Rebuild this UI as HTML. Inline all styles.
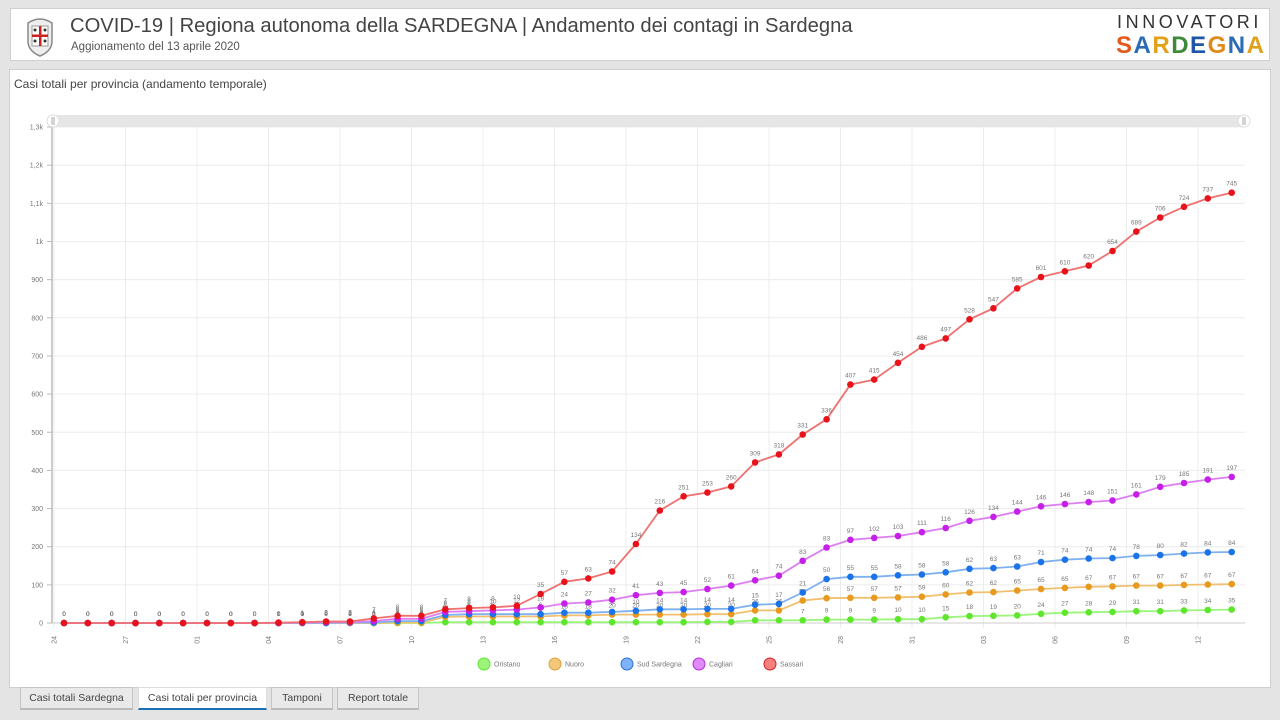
<!DOCTYPE html>
<html><head><meta charset="utf-8">
<style>
body{margin:0;width:1280px;height:720px;background:#e4e4e4;font-family:"Liberation Sans",sans-serif;overflow:hidden;position:relative}
.hdr{position:absolute;left:10px;top:8px;width:1260px;height:53px;background:#fff;border:1px solid #cfcfcf;box-sizing:border-box}
.t1{position:absolute;left:70px;top:15px;font-size:20.2px;color:#444;white-space:nowrap}
.t2{position:absolute;left:71px;top:41px;font-size:11.5px;color:#555}
.panel{position:absolute;left:9px;top:69px;width:1262px;height:619px;background:#fff;border:1px solid #cfcfcf;box-sizing:border-box}
.ptitle{position:absolute;left:14px;top:77px;font-size:12px;color:#444}
.tab{position:absolute;top:687px;height:23px;background:#e9e9e9;border:1px solid #c4c4c4;border-bottom:2px solid #bbb;box-sizing:border-box;font-size:10.5px;color:#444;text-align:center;line-height:21px}
.tab.act{background:#fff;border-color:#ddd;border-bottom:2px solid #1a6fb5}
.logo1{position:absolute;left:1117px;top:12px;font-size:18px;letter-spacing:3.6px;color:#333;white-space:nowrap}
.logo2{position:absolute;left:1116px;top:32px;font-size:24px;font-weight:bold;letter-spacing:1.5px;white-space:nowrap}
</style></head><body>
<div class="hdr"></div>
<svg style="position:absolute;left:22px;top:15px" width="36" height="42" viewBox="0 0 36 42">
<path d="M6 8 Q18 0 30 8 L30 26 Q30 36 18 41 Q6 36 6 26Z" fill="#eee" stroke="#888" stroke-width="1.5"/>
<rect x="10" y="11" width="16" height="20" fill="#fff" stroke="#999"/>
<rect x="17" y="11" width="2.5" height="20" fill="#c22"/><rect x="10" y="19.5" width="16" height="2.5" fill="#c22"/>
<circle cx="13" cy="15" r="1.5" fill="#333"/><circle cx="23" cy="15" r="1.5" fill="#333"/><circle cx="13" cy="26" r="1.5" fill="#333"/><circle cx="23" cy="26" r="1.5" fill="#333"/>
</svg>
<div class="t1">COVID-19 | Regiona autonoma della SARDEGNA | Andamento dei contagi in Sardegna</div>
<div class="t2">Aggionamento del 13 aprile 2020</div>
<div class="logo1">INNOVATORI</div>
<div class="logo2"><span style="color:#e25a1c">S</span><span style="color:#2a6db5">A</span><span style="color:#e0a21a">R</span><span style="color:#3c8a3a">D</span><span style="color:#1f57a6">E</span><span style="color:#e08a1c">G</span><span style="color:#2a6db5">N</span><span style="color:#e0a21a">A</span></div>
<div class="panel"></div>
<div class="ptitle">Casi totali per provincia (andamento temporale)</div>
<svg id="c" style="position:absolute;left:0;top:0" width="1280" height="690"></svg>
<div class="tab" style="left:20px;width:113px">Casi totali Sardegna</div>
<div class="tab act" style="left:138px;width:129px">Casi totali per provincia</div>
<div class="tab" style="left:271px;width:62px">Tamponi</div>
<div class="tab" style="left:337px;width:82px">Report totale</div>
<script>
var O=[],N=[],S=[],C=[],R=[];
var early=[[0,0,0,0,1],[0,0,0,1,1],[0,0,0,2,2],[0,0,1,1,2],[0,0,1,4,7],[0,1,4,6,8],[0,1,4,6,8],[2,14,5,8,7],[2,15,6,8,8],[2,15,6,10,8],[2,15,6,12,10],
[2,15,6,18,35],[2,18,7,24,57],[2,18,7,27,63],[2,20,7,32,74],[2,20,10,41,134],[2,20,14,43,216],[2,20,14,45,251],[3,20,14,52,253],[3,20,14,61,260],[7,26,15,64,309],[7,26,17,74,318]];
for(var i=0;i<9;i++){O.push(0);N.push(0);S.push(0);C.push(0);R.push(0);}
early.forEach(function(a){O.push(a[0]);N.push(a[1]);S.push(a[2]);C.push(a[3]);R.push(a[4]);});
O=O.concat([7,9,9,9,10,10,15,18,19,20,24,27,28,29,31,31,33,34,35]);
N=N.concat([52,56,57,57,57,59,60,62,62,65,65,65,67,67,67,67,67,67,67]);
S=S.concat([21,50,55,55,58,58,58,62,63,63,71,74,74,74,78,80,82,84,84]);
C=C.concat([83,83,97,102,103,111,116,126,134,144,146,146,148,151,161,179,185,191,197]);
R=R.concat([331,336,407,415,454,486,497,528,547,585,601,610,620,654,689,706,724,737,745]);
var ser=[[O,'#5ee62c','#9af57a'],[N,'#e89a1e','#f0c070'],[S,'#1b73ea','#7fb0f0'],[C,'#c51fe8','#dd7ff2'],[R,'#e8121a','#f07070']];
var h='',X0=52,Y0=623,k=0.3815;
function y(v){return Y0-v*k;}function x(i){return 64+23.83*i;}
var yl=['0','100','200','300','400','500','600','700','800','900','1k','1,1k','1,2k','1,3k'];
for(var j=0;j<14;j++){var yy=y(j*100);h+='<line x1="'+X0+'" x2="1245" y1="'+yy+'" y2="'+yy+'" stroke="#ececec"/>';
h+='<line x1="47" x2="'+X0+'" y1="'+yy+'" y2="'+yy+'" stroke="#bbb"/>';
h+='<text x="43" y="'+(yy+2.5)+'" font-size="7" fill="#777" text-anchor="end">'+yl[j]+'</text>';}
var xl=['24','27','01','04','07','10','13','16','19','22','25','28','31','03','06','09','12'];
for(var j=0;j<17;j++){var xx=54+71.5*j;h+='<line x1="'+xx+'" x2="'+xx+'" y1="127" y2="628" stroke="#ececec"/>';
h+='<text transform="translate('+(xx+2.5)+',636) rotate(-90)" font-size="7" fill="#777" text-anchor="end">'+xl[j]+'</text>';}
h+='<line x1="'+X0+'" x2="'+X0+'" y1="127" y2="623" stroke="#bbb" stroke-width="1.5"/><line x1="'+X0+'" x2="1245" y1="623" y2="623" stroke="#ccc"/>';
h+='<rect x="'+X0+'" y="115" width="1193" height="12" fill="#e6e6e6"/>';
[53,1244].forEach(function(cx){h+='<circle cx="'+cx+'" cy="121" r="6" fill="#fff" stroke="#ddd"/><line x1="'+(cx-1)+'" x2="'+(cx-1)+'" y1="117" y2="125" stroke="#aaa"/><line x1="'+(cx+1)+'" x2="'+(cx+1)+'" y1="117" y2="125" stroke="#aaa"/>';});
var cum=[];for(var i=0;i<50;i++)cum.push(0);
var layers=[];
ser.forEach(function(s){var pts=[];for(var i=0;i<50;i++){cum[i]+=s[0][i];pts.push([x(i),y(cum[i]),s[0][i]]);}layers.push([pts,s[1],s[2]]);});
layers.forEach(function(L){h+='<polyline fill="none" stroke="'+L[2]+'" stroke-width="1.8" points="'+L[0].map(function(p){return p[0].toFixed(1)+','+p[1].toFixed(1)}).join(' ')+'"/>';});
layers.forEach(function(L){L[0].forEach(function(p){h+='<circle cx="'+p[0].toFixed(1)+'" cy="'+p[1].toFixed(1)+'" r="3.3" fill="'+L[1]+'"/>';
h+='<text x="'+p[0].toFixed(1)+'" y="'+(p[1]-7).toFixed(1)+'" font-size="6.5" fill="#777" text-anchor="middle">'+p[2]+'</text>';});});
var lg=[['Oristano','#9cf57a','#5ee62c',484],['Nuoro','#f3c77a','#e0a040',555],['Sud Sardegna','#7fb3f7','#2a72d8',627],['Cagliari','#e08af8','#b52fd6',699],['Sassari','#f58080','#d62020',770]];
lg.forEach(function(l){h+='<circle cx="'+l[3]+'" cy="664" r="6" fill="'+l[1]+'" stroke="'+l[2]+'"/><text x="'+(l[3]+10)+'" y="666.5" font-size="7" fill="#777">'+l[0]+'</text>';});
document.getElementById('c').innerHTML=h;
</script>
</body></html>
